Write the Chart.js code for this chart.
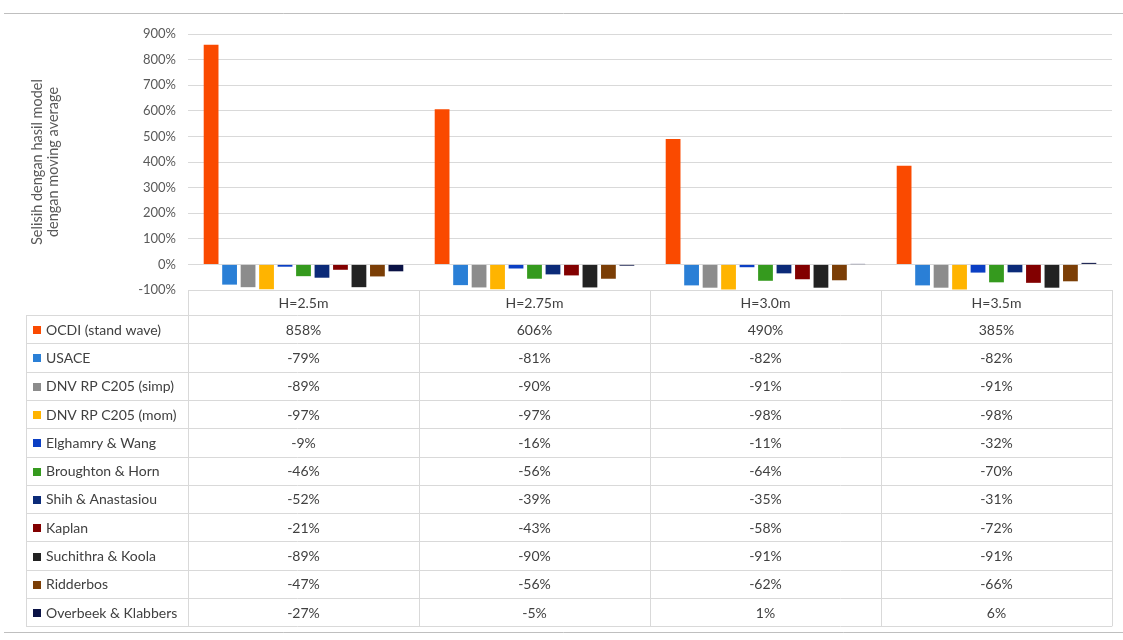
<!DOCTYPE html>
<html>
<head>
<meta charset="utf-8">
<script src="https://cdn.jsdelivr.net/npm/chart.js@4"></script>
<style>
  html, body { margin: 0; padding: 0; background: #fff; }
  #wrap { width: 1123px; height: 640px; position: relative; }
</style>
</head>
<body>
<div id="wrap"><canvas id="c" width="1123" height="640"></canvas></div>
<script>
const categories = ["H=2.5m", "H=2.75m", "H=3.0m", "H=3.5m"];

const seriesNames = [
  "OCDI (stand wave)", "USACE", "DNV RP C205 (simp)", "DNV RP C205 (mom)",
  "Elghamry & Wang", "Broughton & Horn", "Shih & Anastasiou", "Kaplan",
  "Suchithra & Koola", "Ridderbos", "Overbeek & Klabbers"
];

const ocdi = [858, 606, 490, 385];
const usace = [-79, -81, -82, -82];
const dnvSimp = [-89, -90, -91, -91];
const dnvMom = [-97, -97, -98, -98];
const elghamry = [-9, -16, -11, -32];
const broughton = [-46, -56, -64, -70];
const shih = [-52, -39, -35, -31];
const kaplan = [-21, -43, -58, -72];
const suchithra = [-89, -90, -91, -91];
const ridderbos = [-47, -56, -62, -66];
const overbeek = [-27, -5, 1, 6];

const yTicks = [-100, 0, 100, 200, 300, 400, 500, 600, 700, 800, 900];

const seriesValues = [ocdi, usace, dnvSimp, dnvMom, elghamry, broughton, shih, kaplan, suchithra, ridderbos, overbeek];
const colors = ["#FA4A00", "#2A7FD6", "#8C8C8C", "#FFB400", "#0B3FC4", "#359A1E",
                "#0B2A78", "#820000", "#222222", "#7B3E06", "#0A1245"];

const FONT = "Lato, 'Noto Sans', sans-serif";

// table drawn under the plot, aligned to the category scale
const tablePlugin = {
  id: 'dataTable',
  afterDraw(chart) {
    const ctx = chart.ctx;
    const x = chart.scales.x;
    const area = chart.chartArea;
    const colW = (area.right - area.left) / categories.length;
    const top = area.bottom;
    const headH = 25;
    const rowH = 28.3;
    const legLeft = 26;
    const bottom = top + headH + rowH * seriesNames.length;

    ctx.save();
    ctx.strokeStyle = '#D9D9D9';
    ctx.lineWidth = 1;

    // horizontal lines
    ctx.beginPath();
    ctx.moveTo(area.left, top + 0.5); ctx.lineTo(area.right, top + 0.5);
    for (let r = 0; r <= seriesNames.length; r++) {
      const y = Math.round(top + headH + r * rowH) + 0.5;
      ctx.moveTo(legLeft, y); ctx.lineTo(area.right, y);
    }
    // vertical lines
    for (let c = 0; c <= categories.length; c++) {
      const xx = Math.round(area.left + c * colW) + 0.5;
      ctx.moveTo(xx, top); ctx.lineTo(xx, bottom);
    }
    ctx.moveTo(legLeft + 0.5, top + headH); ctx.lineTo(legLeft + 0.5, bottom);
    ctx.stroke();

    ctx.font = "14px " + FONT;
    ctx.fillStyle = '#404040';
    ctx.textBaseline = 'middle';
    ctx.textAlign = 'center';
    categories.forEach((cat, i) => {
      ctx.fillText(cat, x.getPixelForValue(i), top + headH / 2 + 1);
    });

    seriesNames.forEach((name, r) => {
      const cy = top + headH + r * rowH + rowH / 2 + 1;
      ctx.fillStyle = colors[r];
      ctx.fillRect(33, Math.round(cy - 4), 8, 8);
      ctx.fillStyle = '#404040';
      ctx.textAlign = 'left';
      ctx.fillText(name, 46, cy);
      ctx.textAlign = 'center';
      seriesValues[r].forEach((v, i) => {
        ctx.fillText(v + '%', x.getPixelForValue(i), cy);
      });
    });

    // frame lines of the figure
    ctx.strokeStyle = '#BFBFBF';
    ctx.beginPath();
    ctx.moveTo(4, 13.5); ctx.lineTo(1123, 13.5);
    ctx.moveTo(4, 632.5); ctx.lineTo(1123, 632.5);
    ctx.stroke();
    ctx.restore();
  }
};

new Chart(document.getElementById('c'), {
  type: 'bar',
  data: {
    labels: categories,
    datasets: seriesNames.map((name, i) => ({
      label: name,
      data: seriesValues[i],
      backgroundColor: colors[i],
      borderWidth: 0,
      categoryPercentage: 0.88,
      barPercentage: 0.8
    }))
  },
  options: {
    responsive: false,
    animation: false,
    layout: { padding: { top: 34, right: 11, bottom: 350, left: 0 } },
    plugins: { legend: { display: false }, tooltip: { enabled: false } },
    scales: {
      x: { display: false },
      y: {
        min: -100, max: 900,
        afterBuildTicks(scale) { scale.ticks = yTicks.map(v => ({ value: v })); },
        afterFit(scale) { scale.width = 188; },
        grid: { color: '#D9D9D9', drawTicks: false },
        border: { display: false },
        ticks: {
          padding: 12,
          color: '#595959',
          font: { family: FONT, size: 13 },
          callback: v => v + '%'
        },
        title: {
          display: true,
          text: ['Selisih dengan hasil model', 'dengan moving average'],
          color: '#595959',
          font: { family: FONT, size: 14.5, lineHeight: 1.05 },
          padding: { top: 30, bottom: 0 }
        }
      }
    }
  },
  plugins: [tablePlugin]
});
</script>
</body>
</html>
